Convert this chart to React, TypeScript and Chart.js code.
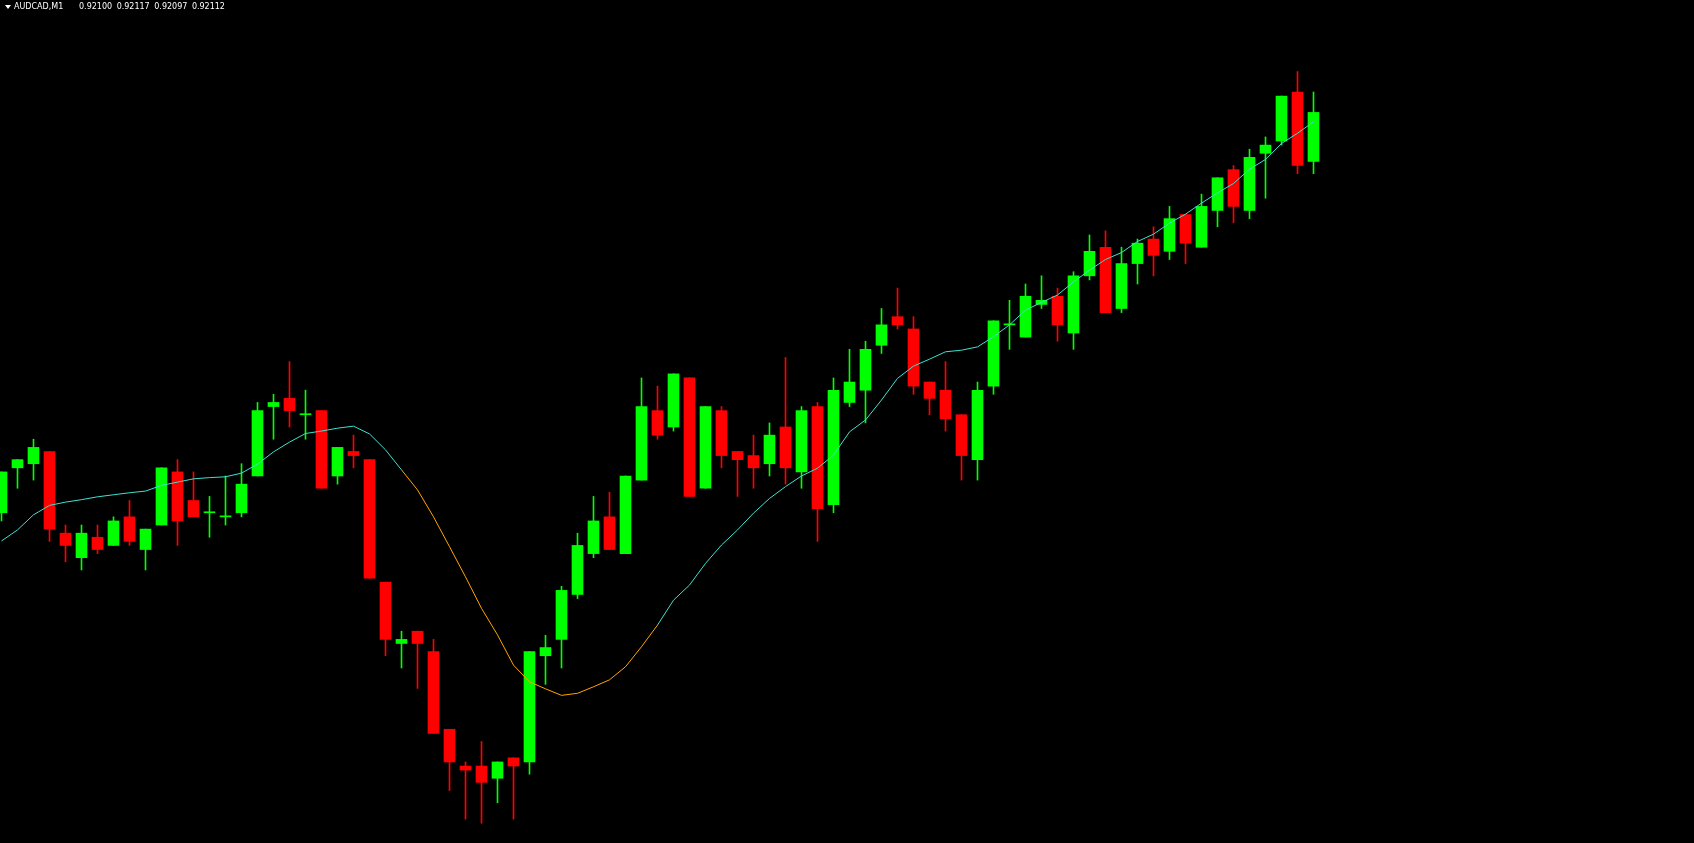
import { useEffect, useRef } from 'react';
import { Chart, registerables } from 'chart.js';

Chart.register(...registerables);

const symbolLabel = 'AUDCAD,M1';

const opens = [
  0.92014, 0.92025, 0.92026, 0.92029, 0.92009, 0.92003, 0.92008, 0.92006, 0.92013, 0.92005,
  0.92011, 0.92024, 0.92017, 0.92014, 0.92013, 0.92014, 0.92023, 0.92040, 0.92042, 0.92038,
  0.92039, 0.92023, 0.92029, 0.92027, 0.91997, 0.91982, 0.91985, 0.91980, 0.91961, 0.91952,
  0.91952, 0.91949, 0.91954, 0.91953, 0.91979, 0.91983, 0.91994, 0.92004, 0.92013, 0.92004,
  0.92022, 0.92039, 0.92035, 0.92047, 0.92020, 0.92039, 0.92029, 0.92028, 0.92026, 0.92035,
  0.92024, 0.92040, 0.92016, 0.92041, 0.92044, 0.92055, 0.92062, 0.92059, 0.92046, 0.92044,
  0.92038, 0.92027, 0.92045, 0.92060, 0.92057, 0.92065, 0.92067, 0.92058, 0.92072, 0.92079,
  0.92064, 0.92075, 0.92081, 0.92078, 0.92087, 0.92079, 0.92088, 0.92098, 0.92088, 0.92102,
  0.92105, 0.92117, 0.92100,
];

const highs = [
  0.92024, 0.92027, 0.92032, 0.92029, 0.92011, 0.92011, 0.92011, 0.92013, 0.92017, 0.92010,
  0.92025, 0.92027, 0.92024, 0.92018, 0.92023, 0.92026, 0.92041, 0.92043, 0.92051, 0.92044,
  0.92039, 0.92030, 0.92033, 0.92027, 0.91997, 0.91985, 0.91985, 0.91983, 0.91961, 0.91953,
  0.91958, 0.91953, 0.91954, 0.91980, 0.91984, 0.91996, 0.92009, 0.92018, 0.92019, 0.92023,
  0.92047, 0.92045, 0.92048, 0.92047, 0.92040, 0.92040, 0.92029, 0.92033, 0.92036, 0.92052,
  0.92040, 0.92041, 0.92047, 0.92054, 0.92056, 0.92064, 0.92069, 0.92062, 0.92046, 0.92051,
  0.92038, 0.92046, 0.92061, 0.92066, 0.92070, 0.92072, 0.92069, 0.92073, 0.92082, 0.92083,
  0.92079, 0.92081, 0.92084, 0.92089, 0.92087, 0.92092, 0.92096, 0.92099, 0.92103, 0.92106,
  0.92116, 0.92122, 0.92117,
];

const lows = [
  0.92012, 0.92020, 0.92022, 0.92007, 0.92002, 0.92000, 0.92004, 0.92006, 0.92006, 0.92000,
  0.92011, 0.92006, 0.92013, 0.92008, 0.92011, 0.92013, 0.92023, 0.92032, 0.92035, 0.92032,
  0.92020, 0.92021, 0.92025, 0.91998, 0.91979, 0.91976, 0.91971, 0.91960, 0.91946, 0.91939,
  0.91938, 0.91943, 0.91939, 0.91950, 0.91972, 0.91976, 0.91993, 0.92003, 0.92005, 0.92004,
  0.92022, 0.92032, 0.92034, 0.92018, 0.92020, 0.92025, 0.92018, 0.92020, 0.92023, 0.92021,
  0.92020, 0.92007, 0.92014, 0.92040, 0.92036, 0.92053, 0.92059, 0.92043, 0.92038, 0.92034,
  0.92022, 0.92022, 0.92043, 0.92054, 0.92057, 0.92064, 0.92056, 0.92054, 0.92071, 0.92063,
  0.92063, 0.92070, 0.92072, 0.92076, 0.92075, 0.92079, 0.92084, 0.92085, 0.92086, 0.92091,
  0.92104, 0.92097, 0.92097,
];

const closes = [
  0.92024, 0.92027, 0.92030, 0.92010, 0.92006, 0.92009, 0.92005, 0.92012, 0.92007, 0.92010,
  0.92025, 0.92012, 0.92013, 0.92014, 0.92013, 0.92021, 0.92039, 0.92041, 0.92039, 0.92038,
  0.92020, 0.92030, 0.92028, 0.91998, 0.91983, 0.91983, 0.91982, 0.91960, 0.91953, 0.91951,
  0.91948, 0.91953, 0.91952, 0.91980, 0.91981, 0.91995, 0.92006, 0.92012, 0.92005, 0.92023,
  0.92040, 0.92033, 0.92048, 0.92018, 0.92040, 0.92028, 0.92027, 0.92025, 0.92033, 0.92025,
  0.92039, 0.92015, 0.92044, 0.92046, 0.92054, 0.92060, 0.92060, 0.92045, 0.92042, 0.92037,
  0.92028, 0.92044, 0.92061, 0.92060, 0.92067, 0.92066, 0.92060, 0.92072, 0.92078, 0.92063,
  0.92075, 0.92080, 0.92077, 0.92086, 0.92080, 0.92089, 0.92096, 0.92089, 0.92101, 0.92104,
  0.92116, 0.92099, 0.92112,
];

const movingAverage = [
  0.920071, 0.920098, 0.920135, 0.920158, 0.920166, 0.920172, 0.920179, 0.920184, 0.920189, 0.920193,
  0.920207, 0.920215, 0.920223, 0.920226, 0.920228, 0.920237, 0.920259, 0.920289, 0.920313, 0.920334,
  0.920340, 0.920347, 0.920352, 0.920333, 0.920294, 0.920245, 0.920196, 0.920130, 0.920057, 0.919983,
  0.919906, 0.919841, 0.919767, 0.919726, 0.919709, 0.919693, 0.919698, 0.919714, 0.919731, 0.919763,
  0.919812, 0.919865, 0.919926, 0.919963, 0.920016, 0.920061, 0.920098, 0.920139, 0.920175, 0.920204,
  0.920230, 0.920249, 0.920281, 0.920338, 0.920367, 0.920416, 0.920469, 0.920499, 0.920516, 0.920534,
  0.920538, 0.920546, 0.920571, 0.920600, 0.920636, 0.920655, 0.920673, 0.920705, 0.920734, 0.920760,
  0.920777, 0.920804, 0.920822, 0.920849, 0.920871, 0.920898, 0.920923, 0.920946, 0.920981, 0.921005,
  0.921044, 0.921069, 0.921097,
];

// index range (first point, last point) where the average is in its falling state
const maFallingRange = [25, 41];

const BULL = '#00FF00';
const BEAR = '#FF0000';
const MA_UP = '#40E0D0';
const MA_DOWN = '#FFA500';

const W = 1694;
const H = 843;

export default function App() {
  const canvasRef = useRef<HTMLCanvasElement | null>(null);

  useEffect(() => {
    const canvas = canvasRef.current;
    if (!canvas) return;
    const colors = opens.map((o, i) => (closes[i] >= o ? BULL : BEAR));
    const wickData = opens.map((_, i) => ({ x: i, y: [lows[i], highs[i]] }));
    const bodyData = opens.map((o, i) => ({ x: i, y: [o, closes[i]] }));
    const maData = movingAverage.map((v, i) => ({ x: i, y: v }));

    const barSpacing = 16;
    const xMin = -1.5 / barSpacing;
    const xMax = xMin + W / barSpacing;
    const pxPerPrice = 408500;
    const yMax = 0.92117 + 92 / pxPerPrice;
    const yMin = yMax - H / pxPerPrice;

    const chart = new Chart(canvas, {
      type: 'bar',
      data: {
        datasets: [
          {
            type: 'bar',
            data: wickData as any,
            backgroundColor: colors,
            barThickness: 1,
            grouped: false,
            borderWidth: 0,
            order: 3,
          } as any,
          {
            type: 'bar',
            data: bodyData as any,
            backgroundColor: colors,
            barThickness: 11,
            minBarLength: 1,
            grouped: false,
            borderWidth: 0,
            order: 2,
          } as any,
          {
            type: 'line',
            data: maData as any,
            borderColor: MA_UP,
            borderWidth: 1,
            pointRadius: 0,
            tension: 0,
            order: 1,
            segment: {
              borderColor: (ctx: any) =>
                ctx.p0DataIndex >= maFallingRange[0] && ctx.p0DataIndex < maFallingRange[1]
                  ? MA_DOWN
                  : MA_UP,
            },
          } as any,
        ],
      },
      options: {
        animation: false,
        responsive: false,
        maintainAspectRatio: false,
        layout: { padding: 0 },
        plugins: {
          legend: { display: false },
          tooltip: { enabled: false },
          title: { display: false },
        },
        scales: {
          x: { type: 'linear', min: xMin, max: xMax, display: false, offset: false },
          y: { type: 'linear', min: yMin, max: yMax, display: false },
        },
      },
    });
    return () => chart.destroy();
  }, []);

  const last = opens.length - 1;
  const ohlc = [opens[last], highs[last], lows[last], closes[last]].map((v) => v.toFixed(5)).join(' ');

  const textStyle = {
    position: 'absolute' as const,
    top: 1,
    fontSize: 8,
    lineHeight: '12px',
    color: '#fff',
    fontFamily: '"DejaVu Sans", Verdana, sans-serif',
    whiteSpace: 'nowrap' as const,
  };

  return (
    <div
      style={{
        position: 'fixed',
        left: 0,
        top: 0,
        width: W,
        height: H,
        background: '#000',
        overflow: 'hidden',
      }}
    >
      <canvas ref={canvasRef} width={W} height={H} style={{ position: 'absolute', left: 0, top: 0, width: W, height: H }} />
      <div
        style={{
          position: 'absolute',
          left: 5,
          top: 5,
          width: 0,
          height: 0,
          borderLeft: '3px solid transparent',
          borderRight: '3px solid transparent',
          borderTop: '4px solid #fff',
        }}
      />
      <span style={{ ...textStyle, left: 14 }}>{symbolLabel}</span>
      <span style={{ ...textStyle, left: 79, wordSpacing: 2 }}>{ohlc}</span>
    </div>
  );
}
